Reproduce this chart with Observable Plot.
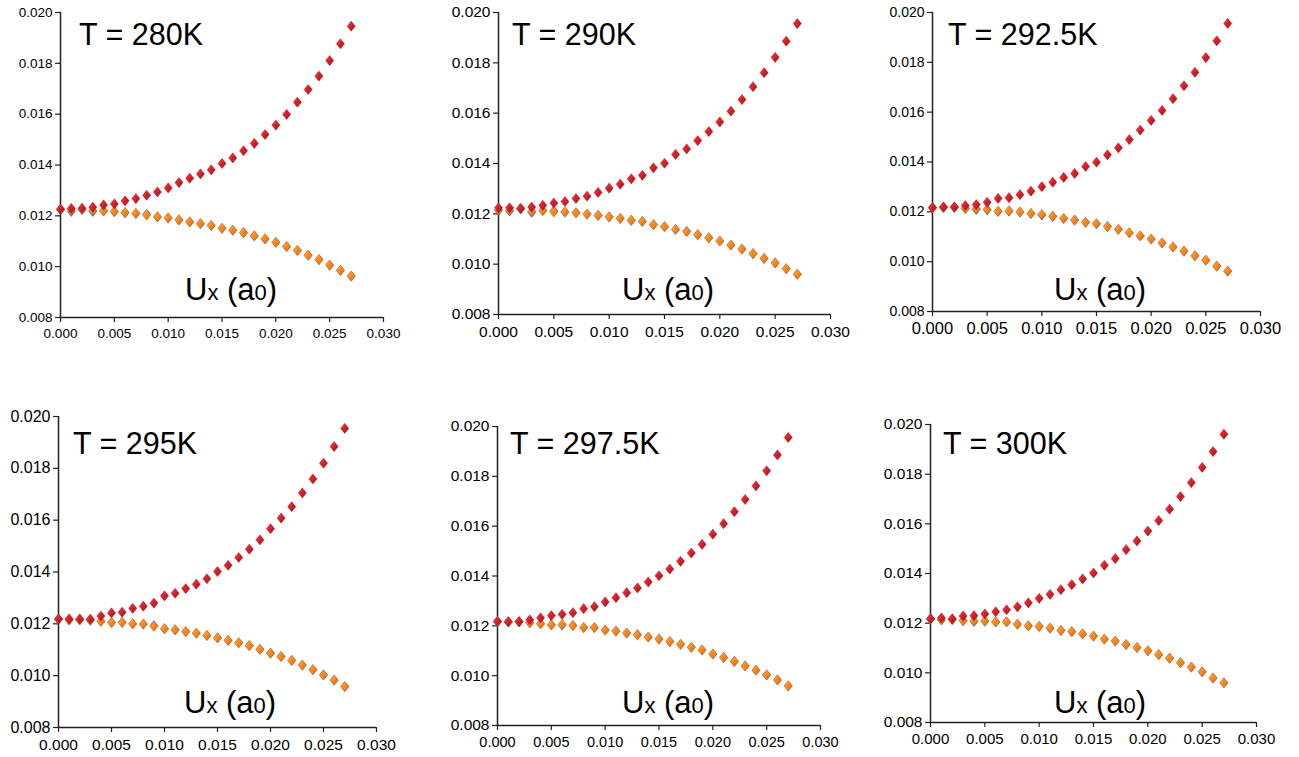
<!DOCTYPE html>
<html>
<head>
<meta charset="utf-8">
<script src="https://cdn.jsdelivr.net/npm/d3@7"></script>
<script src="https://cdn.jsdelivr.net/npm/@observablehq/plot@0.6"></script>
<style>
  html, body { margin: 0; padding: 0; background: #fff; }
  #chart { position: relative; width: 1299px; height: 757px; overflow: hidden; background: #fff; }
  #chart > svg.panel { position: absolute; }
</style>
</head>
<body>
<svg width="0" height="0" style="position:absolute">
  <defs>
    <linearGradient id="gRed" x1="0" y1="0" x2="1" y2="1">
      <stop offset="0" stop-color="#f0454a"/>
      <stop offset="0.45" stop-color="#d8222b"/>
      <stop offset="1" stop-color="#a10e16"/>
    </linearGradient>
    <linearGradient id="gOrange" x1="0" y1="0" x2="1" y2="1">
      <stop offset="0" stop-color="#ffb050"/>
      <stop offset="0.45" stop-color="#fb8a1e"/>
      <stop offset="1" stop-color="#e06800"/>
    </linearGradient>
    <linearGradient id="gBlue" x1="0" y1="0" x2="1" y2="1">
      <stop offset="0" stop-color="#6fa8f0"/>
      <stop offset="0.45" stop-color="#3e7fdc"/>
      <stop offset="1" stop-color="#1f4fa8"/>
    </linearGradient>
  </defs>
</svg>
<div id="chart"></div>
<script>
// ---------------- DATA ----------------
const ux = [0.000,0.001,0.002,0.003,0.004,0.005,0.006,0.007,0.008,0.009,0.010,0.011,0.012,0.013,
            0.014,0.015,0.016,0.017,0.018,0.019,0.020,0.021,0.022,0.023,0.024,0.025,0.026,0.027];

const temperatures = ["280K", "290K", "292.5K", "295K", "297.5K", "300K"];

const xTickValues = [0.000, 0.005, 0.010, 0.015, 0.020, 0.025, 0.030];
const yTickValues = [0.008, 0.010, 0.012, 0.014, 0.016, 0.018, 0.020];

// T = 280K
const red280 = [0.01226,0.01229,0.01230,0.01234,0.01243,0.01247,0.01259,0.01268,0.01281,0.01294,0.01310,0.01331,0.01348,0.01365,
                0.01381,0.01406,0.01428,0.01456,0.01485,0.01520,0.01557,0.01599,0.01647,0.01697,0.01750,0.01811,0.01877,0.01946];
const orange280 = [0.01226,0.01222,0.01225,0.01222,0.01220,0.01217,0.01213,0.01210,0.01203,0.01196,0.01192,0.01184,0.01176,0.01170,
                   0.01162,0.01151,0.01144,0.01134,0.01121,0.01110,0.01096,0.01079,0.01064,0.01045,0.01028,0.01006,0.00985,0.00963];
const blue280 = [0.01224,0.01217,0.01224,0.01217,0.01219,0.01216,0.01212,0.01209,0.01206,0.01196,0.01191,0.01184,0.01176,0.01169,
                 0.01162,0.01151,0.01143,0.01134,0.01121,0.01109,0.01096,0.01079,0.01064,0.01045,0.01028,0.01006,0.00985,0.00963];

// T = 290K
const red290 = [0.01224,0.01224,0.01222,0.01227,0.01234,0.01243,0.01249,0.01261,0.01270,0.01285,0.01302,0.01318,0.01339,0.01353,
                0.01383,0.01401,0.01436,0.01458,0.01491,0.01527,0.01565,0.01608,0.01654,0.01705,0.01761,0.01822,0.01886,0.01956];
const orange290 = [0.01216,0.01214,0.01220,0.01211,0.01214,0.01207,0.01208,0.01203,0.01199,0.01194,0.01187,0.01182,0.01175,0.01170,
                   0.01157,0.01149,0.01138,0.01130,0.01117,0.01105,0.01092,0.01076,0.01060,0.01042,0.01023,0.01005,0.00982,0.00960];
const blue290 = [0.01213,0.01211,0.01219,0.01206,0.01213,0.01211,0.01207,0.01205,0.01199,0.01194,0.01188,0.01182,0.01174,0.01170,
                 0.01157,0.01149,0.01138,0.01130,0.01117,0.01105,0.01092,0.01076,0.01060,0.01042,0.01023,0.01005,0.00982,0.00960];

// T = 292.5K
const red2925 = [0.01217,0.01220,0.01220,0.01225,0.01229,0.01238,0.01254,0.01257,0.01269,0.01283,0.01301,0.01319,0.01338,0.01354,
                 0.01382,0.01399,0.01429,0.01457,0.01490,0.01528,0.01567,0.01607,0.01654,0.01706,0.01760,0.01819,0.01886,0.01956];
const orange2925 = [0.01217,0.01218,0.01218,0.01214,0.01213,0.01210,0.01202,0.01204,0.01200,0.01194,0.01190,0.01182,0.01174,0.01167,
                    0.01158,0.01153,0.01141,0.01130,0.01116,0.01104,0.01091,0.01075,0.01059,0.01043,0.01024,0.01006,0.00982,0.00962];
const blue2925 = [0.01216,0.01217,0.01218,0.01213,0.01209,0.01208,0.01202,0.01203,0.01199,0.01193,0.01187,0.01182,0.01173,0.01167,
                  0.01158,0.01152,0.01141,0.01130,0.01116,0.01103,0.01091,0.01075,0.01059,0.01042,0.01024,0.01006,0.00982,0.00962];

// T = 295K
const red295 = [0.01219,0.01219,0.01219,0.01218,0.01230,0.01242,0.01245,0.01260,0.01268,0.01280,0.01308,0.01318,0.01336,0.01353,
                0.01374,0.01402,0.01426,0.01456,0.01488,0.01524,0.01567,0.01608,0.01652,0.01705,0.01759,0.01820,0.01884,0.01954];
const orange295 = [0.01218,0.01215,0.01215,0.01214,0.01210,0.01205,0.01206,0.01200,0.01199,0.01190,0.01181,0.01177,0.01170,0.01164,
                   0.01155,0.01146,0.01136,0.01127,0.01116,0.01102,0.01087,0.01074,0.01059,0.01041,0.01023,0.01003,0.00983,0.00958];
const blue295 = [0.01218,0.01215,0.01215,0.01214,0.01210,0.01205,0.01206,0.01200,0.01199,0.01193,0.01181,0.01177,0.01170,0.01164,
                 0.01155,0.01146,0.01136,0.01127,0.01116,0.01102,0.01087,0.01074,0.01059,0.01041,0.01023,0.01003,0.00983,0.00958];

// T = 297.5K
const red2975 = [0.01218,0.01216,0.01217,0.01224,0.01232,0.01241,0.01246,0.01253,0.01269,0.01277,0.01296,0.01313,0.01333,0.01352,
                 0.01376,0.01401,0.01428,0.01459,0.01492,0.01527,0.01568,0.01610,0.01658,0.01707,0.01762,0.01822,0.01886,0.01956];
const orange2975 = [0.01217,0.01216,0.01216,0.01212,0.01208,0.01204,0.01206,0.01200,0.01193,0.01193,0.01183,0.01179,0.01171,0.01163,
                    0.01155,0.01147,0.01137,0.01126,0.01114,0.01103,0.01087,0.01073,0.01057,0.01039,0.01022,0.01003,0.00983,0.00959];
const blue2975 = [0.01217,0.01216,0.01216,0.01212,0.01208,0.01204,0.01203,0.01202,0.01193,0.01193,0.01183,0.01179,0.01171,0.01165,
                  0.01155,0.01147,0.01137,0.01126,0.01114,0.01103,0.01087,0.01073,0.01057,0.01039,0.01022,0.01003,0.00983,0.00959];

// T = 300K
const red300 = [0.01218,0.01221,0.01218,0.01229,0.01230,0.01237,0.01246,0.01254,0.01266,0.01282,0.01300,0.01316,0.01335,0.01355,
                0.01378,0.01402,0.01433,0.01460,0.01496,0.01531,0.01571,0.01613,0.01659,0.01710,0.01766,0.01827,0.01891,0.01961];
const orange300 = [0.01217,0.01213,0.01214,0.01210,0.01210,0.01209,0.01205,0.01205,0.01196,0.01190,0.01187,0.01180,0.01171,0.01166,
                   0.01157,0.01148,0.01136,0.01128,0.01114,0.01102,0.01089,0.01073,0.01059,0.01041,0.01023,0.01004,0.00979,0.00960];
const blue300 = [0.01217,0.01213,0.01214,0.01210,0.01207,0.01208,0.01205,0.01205,0.01196,0.01189,0.01187,0.01180,0.01171,0.01166,
                 0.01157,0.01148,0.01136,0.01128,0.01114,0.01102,0.01089,0.01073,0.01059,0.01041,0.01023,0.01004,0.00979,0.00960];

const redSeries = [red280, red290, red2925, red295, red2975, red300];
const orangeSeries = [orange280, orange290, orange2925, orange295, orange2975, orange300];
const blueSeries = [blue280, blue290, blue2925, blue295, blue2975, blue300];

// ---------------- LAYOUT (page pixels) ----------------
const layout = [
  {left: 60,  right: 383,  top: 12,  bottom: 317, titleX: 79,  titleY: 45,  uxX: 185,  uxY: 300, fy: 13.5, fx: 13.5},
  {left: 498, right: 830,  top: 12,  bottom: 314, titleX: 512, titleY: 45,  uxX: 622,  uxY: 300, fy: 15.5, fx: 15.5},
  {left: 932, right: 1260, top: 12,  bottom: 311, titleX: 948, titleY: 45,  uxX: 1054, uxY: 300, fy: 14,   fx: 16.5},
  {left: 58,  right: 376,  top: 416, bottom: 727, titleX: 73,  titleY: 454, uxX: 184,  uxY: 713, fy: 16,   fx: 15.5},
  {left: 497, right: 820,  top: 426, bottom: 725, titleX: 510, titleY: 454, uxX: 622,  uxY: 713, fy: 15.5, fx: 14.5},
  {left: 930, right: 1256, top: 424, bottom: 722, titleX: 943, titleY: 454, uxX: 1054, uxY: 713, fy: 15.5, fx: 15}
];

const ML = 60, MR = 24, MT = 10, MB = 34;

// a diamond slightly taller than wide
const diamond = {
  draw(ctx, size) {
    const h = Math.sqrt(size) * 0.72;
    const w = h * 0.8;
    ctx.moveTo(0, -h); ctx.lineTo(w, 0); ctx.lineTo(0, h); ctx.lineTo(-w, 0); ctx.closePath();
  }
};

const chart = document.getElementById("chart");
const fmt = d3.format(".3f");
const labelFont = "Arial, 'Liberation Sans', sans-serif";

layout.forEach((L, i) => {
  const rows = (series, name) => ux.map((x, j) => ({x, y: series[j], s: name}));
  const blue = rows(blueSeries[i], "blue");
  const orange = rows(orangeSeries[i], "orange");
  const red = rows(redSeries[i], "red");
  const W = (L.right - L.left) + ML + MR;
  const H = (L.bottom - L.top) + MT + MB;

  const plot = Plot.plot({
    width: W, height: H,
    marginLeft: ML, marginRight: MR, marginTop: MT, marginBottom: MB,
    style: {fontFamily: labelFont, color: "#000", background: "transparent", overflow: "visible"},
    x: {domain: [0, 0.030]},
    y: {domain: [0.008, 0.020]},
    marks: [
      Plot.axisY({ticks: yTickValues, tickFormat: fmt, tickSize: 5, tickPadding: 3, fontSize: L.fy, stroke: "#222", strokeWidth: 1.2, label: null}),
      Plot.axisX({ticks: xTickValues, tickFormat: fmt, tickSize: 5, tickPadding: 6, fontSize: L.fx, stroke: "#222", strokeWidth: 1.2, label: null}),
      Plot.ruleX([0], {stroke: "#222", strokeWidth: 1.5}),
      Plot.ruleY([0.008], {stroke: "#222", strokeWidth: 1.5}),
      Plot.dot(blue, {x: "x", y: "y", symbol: diamond, r: 4, fill: "url(#gBlue)", stroke: "#2a5cb0", strokeWidth: 0.4}),
      Plot.dot(orange, {x: "x", y: "y", symbol: diamond, r: 4, fill: "url(#gOrange)", stroke: "#e06a00", strokeWidth: 0.4}),
      Plot.dot(red, {x: "x", y: "y", symbol: diamond, r: 4, fill: "url(#gRed)", stroke: "#a00f18", strokeWidth: 0.4})
    ]
  });
  plot.classList.add("panel");
  plot.style.left = (L.left - ML) + "px";
  plot.style.top = (L.top - MT) + "px";

  const ox = L.left - ML, oy = L.top - MT;
  const svg = d3.select(plot);
  svg.append("text")
    .attr("x", L.titleX - ox).attr("y", L.titleY - oy)
    .attr("text-anchor", "start")
    .attr("font-family", labelFont)
    .attr("font-size", 30.5).attr("fill", "#000")
    .text("T = " + temperatures[i]);

  const ut = svg.append("text")
    .attr("x", L.uxX - ox).attr("y", L.uxY - oy)
    .attr("text-anchor", "start")
    .attr("font-family", labelFont)
    .attr("fill", "#000");
  ut.append("tspan").attr("font-size", 31).text("U");
  ut.append("tspan").attr("font-size", 22).text("x");
  ut.append("tspan").attr("font-size", 31).text("\u00a0(a");
  ut.append("tspan").attr("font-size", 22).text("0");
  ut.append("tspan").attr("font-size", 31).text(")");

  chart.appendChild(plot);
});
</script>
</body>
</html>
